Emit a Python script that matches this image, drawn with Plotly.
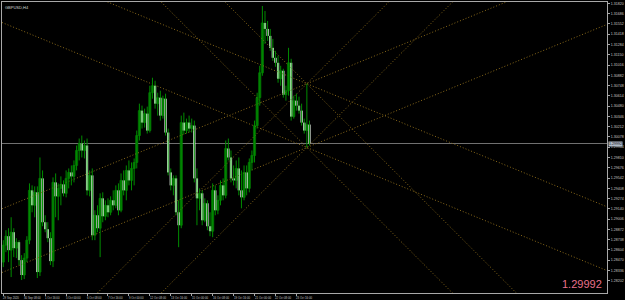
import plotly.graph_objects as go

# ---------------- data ----------------
symbol_label = "GBPUSD,H4"
bid_price = 1.29992

x_label_bars = [0, 8, 16, 24, 32, 40, 48, 56, 64, 72, 80, 88, 96, 104, 112]
x_labels = ["29 Sep 2020", "30 Sep 08:00", "1 Oct 16:00", "5 Oct 00:00", "6 Oct 08:00",
            "7 Oct 16:00", "9 Oct 00:00", "12 Oct 08:00", "13 Oct 16:00", "15 Oct 00:00",
            "16 Oct 08:00", "19 Oct 16:00", "21 Oct 00:00", "22 Oct 08:00", "23 Oct 16:00"]

y_ticks = [1.28202, 1.28336, 1.28470, 1.28604, 1.28738, 1.28872, 1.29006, 1.29140,
           1.29274, 1.29408, 1.29542, 1.29676, 1.29810, 1.29944, 1.30078, 1.30212,
           1.30346, 1.30480, 1.30614, 1.30748, 1.30882, 1.31016, 1.31150, 1.31284,
           1.31418, 1.31552, 1.31686, 1.31820]

opens = [1.28445, 1.28666, 1.28783, 1.28601, 1.28835, 1.28627, 1.28705, 1.28471, 1.28276, 1.28497,
         1.28731, 1.29381, 1.29186, 1.29355, 1.28315, 1.29537, 1.28965, 1.28874, 1.28757, 1.28458,
         1.29485, 1.29303, 1.29407, 1.29459, 1.29342, 1.29537, 1.29615, 1.29563, 1.29706, 1.29901,
         1.29992, 1.29901, 1.29966, 1.29381, 1.29576, 1.28796, 1.29056, 1.28887, 1.29277, 1.29043,
         1.29186, 1.29095, 1.29251, 1.29186, 1.29381, 1.29121, 1.29511, 1.29381, 1.29641, 1.29511,
         1.29667, 1.29745, 1.30096, 1.30421, 1.30265, 1.30382, 1.30161, 1.30655, 1.30746, 1.30512,
         1.30590, 1.30356, 1.30577, 1.30135, 1.29615, 1.29446, 1.29537, 1.29095, 1.28926, 1.30265,
         1.30161, 1.30265, 1.30187, 1.30226, 1.29537, 1.29277, 1.29342, 1.28991, 1.29212, 1.28913,
         1.28848, 1.29381, 1.29121, 1.29251, 1.29446, 1.29316, 1.29927, 1.29810, 1.29537, 1.29511,
         1.29667, 1.29381, 1.29290, 1.29615, 1.29407, 1.29745, 1.29836, 1.30226, 1.30590, 1.30915,
         1.31565, 1.31487, 1.31396, 1.31240, 1.31110, 1.31045, 1.30837, 1.30941, 1.30629, 1.30681,
         1.31045, 1.30343, 1.30551, 1.30486, 1.30421, 1.30265, 1.30161, 1.30239]

highs = [1.28731, 1.28861, 1.28887, 1.29030, 1.28887, 1.28757, 1.28731, 1.28536, 1.28562, 1.28783,
         1.29472, 1.29446, 1.29433, 1.29433, 1.29810, 1.29641, 1.29056, 1.28965, 1.28835, 1.29550,
         1.29602, 1.29472, 1.29563, 1.29511, 1.29641, 1.29667, 1.29706, 1.29771, 1.29966, 1.30057,
         1.30096, 1.30031, 1.30057, 1.29641, 1.29667, 1.29121, 1.29186, 1.29342, 1.29355, 1.29251,
         1.29277, 1.29303, 1.29381, 1.29446, 1.29472, 1.29602, 1.29641, 1.29706, 1.29771, 1.29745,
         1.29797, 1.30161, 1.30512, 1.30486, 1.30447, 1.30473, 1.30746, 1.30850, 1.30811, 1.30655,
         1.30681, 1.30616, 1.30642, 1.30187, 1.29667, 1.29576, 1.29576, 1.29251, 1.30356, 1.30395,
         1.30317, 1.30356, 1.30317, 1.30291, 1.29667, 1.29407, 1.29381, 1.29277, 1.29251, 1.29095,
         1.29472, 1.29446, 1.29316, 1.29511, 1.29537, 1.30031, 1.30057, 1.29901, 1.29706, 1.29771,
         1.29810, 1.29641, 1.29706, 1.29706, 1.29797, 1.29901, 1.30291, 1.30655, 1.31006, 1.31786,
         1.31721, 1.31591, 1.31487, 1.31357, 1.31201, 1.31136, 1.31006, 1.30967, 1.30746, 1.31240,
         1.31097, 1.30616, 1.30642, 1.30603, 1.30512, 1.30317, 1.30772, 1.30291]

lows = [1.28380, 1.28575, 1.28445, 1.28250, 1.28510, 1.28497, 1.28406, 1.28211, 1.28224, 1.28445,
        1.28679, 1.29095, 1.29030, 1.28237, 1.28263, 1.28913, 1.28835, 1.28705, 1.28406, 1.28380,
        1.29030, 1.28991, 1.29186, 1.29303, 1.29290, 1.29407, 1.29446, 1.29485, 1.29641, 1.29771,
        1.29810, 1.29797, 1.29316, 1.29303, 1.28731, 1.28731, 1.28835, 1.28510, 1.28965, 1.28991,
        1.29030, 1.29056, 1.29121, 1.29147, 1.29056, 1.29095, 1.29316, 1.29251, 1.29446, 1.29381,
        1.29446, 1.29667, 1.30031, 1.30187, 1.30200, 1.30122, 1.30135, 1.30577, 1.30447, 1.30356,
        1.30291, 1.30317, 1.30096, 1.29576, 1.29381, 1.29316, 1.29056, 1.28640, 1.28887, 1.30109,
        1.30122, 1.30135, 1.30135, 1.29485, 1.28926, 1.29121, 1.28926, 1.28965, 1.28861, 1.28783,
        1.28770, 1.29056, 1.29069, 1.29186, 1.29251, 1.29277, 1.29771, 1.29485, 1.29446, 1.29407,
        1.29316, 1.29147, 1.29251, 1.29316, 1.29355, 1.29641, 1.29745, 1.30187, 1.30486, 1.30876,
        1.31292, 1.31331, 1.31201, 1.31071, 1.30993, 1.30785, 1.30746, 1.30590, 1.30551, 1.30616,
        1.30291, 1.30317, 1.30421, 1.30382, 1.30226, 1.30122, 1.29940, 1.29966]

closes = [1.28666, 1.28783, 1.28601, 1.28835, 1.28627, 1.28705, 1.28471, 1.28276, 1.28497, 1.28731,
          1.29381, 1.29186, 1.29355, 1.28315, 1.29537, 1.28965, 1.28874, 1.28757, 1.28458, 1.29485,
          1.29303, 1.29407, 1.29459, 1.29342, 1.29537, 1.29615, 1.29563, 1.29706, 1.29901, 1.29992,
          1.29901, 1.29966, 1.29381, 1.29576, 1.28796, 1.29056, 1.28887, 1.29277, 1.29043, 1.29186,
          1.29095, 1.29251, 1.29186, 1.29381, 1.29121, 1.29511, 1.29381, 1.29641, 1.29511, 1.29667,
          1.29745, 1.30096, 1.30421, 1.30265, 1.30382, 1.30161, 1.30655, 1.30746, 1.30512, 1.30590,
          1.30356, 1.30577, 1.30135, 1.29615, 1.29446, 1.29537, 1.29095, 1.28926, 1.30265, 1.30161,
          1.30265, 1.30187, 1.30226, 1.29537, 1.29277, 1.29342, 1.28991, 1.29212, 1.28913, 1.28848,
          1.29381, 1.29121, 1.29251, 1.29446, 1.29316, 1.29927, 1.29810, 1.29537, 1.29511, 1.29667,
          1.29381, 1.29290, 1.29615, 1.29407, 1.29745, 1.29836, 1.30226, 1.30590, 1.30915, 1.31565,
          1.31487, 1.31396, 1.31240, 1.31110, 1.31045, 1.30837, 1.30941, 1.30629, 1.30681, 1.31045,
          1.30343, 1.30551, 1.30486, 1.30421, 1.30265, 1.30161, 1.30239, 1.29992]

bars = list(range(len(closes)))

# trend-line fan: anchored on the high and low of one bar, slopes in price per bar
fan_anchor_bar = 116
fan_anchor_prices = [1.30772, 1.29940]
fan_slopes = [0.00014, -0.00014, 0.000341, -0.000341]

x_range = [-0.5, 230.7]
y_range = [1.28042, 1.31838]

# ---------------- figure ----------------
WICK = "#008c00"
BULL_BODY = "#006a00"
BEAR_BODY = "#f2fff2"
GOLD = "#8a6a1a"
AXIS = "#a8a8a8"
FONT = "Liberation Sans, Arial, sans-serif"

fig = go.Figure()

# fan lines
for p in fan_anchor_prices:
    for s in fan_slopes:
        xs = [x_range[0], x_range[1]]
        ys = [p + s * (xv - fan_anchor_bar) for xv in xs]
        fig.add_trace(go.Scatter(x=xs, y=ys, mode="lines",
                                 line=dict(color=GOLD, width=1, dash="1px,2px"),
                                 hoverinfo="skip", showlegend=False))

# wicks
wx, wy = [], []
for i, h, l in zip(bars, highs, lows):
    wx += [i, i, None]
    wy += [l, h, None]
fig.add_trace(go.Scatter(x=wx, y=wy, mode="lines", line=dict(color=WICK, width=1),
                         hoverinfo="skip", showlegend=False))

# bodies
bull_x, bull_base, bull_h = [], [], []
bear_x, bear_base, bear_h = [], [], []
for i, o, c in zip(bars, opens, closes):
    if c >= o:
        bull_x.append(i); bull_base.append(o); bull_h.append(c - o)
    else:
        bear_x.append(i); bear_base.append(c); bear_h.append(o - c)
fig.add_trace(go.Bar(x=bull_x, y=bull_h, base=bull_base, width=0.85,
                     marker=dict(color=BULL_BODY, line=dict(color=WICK, width=0.6)),
                     hoverinfo="skip", showlegend=False))
fig.add_trace(go.Bar(x=bear_x, y=bear_h, base=bear_base, width=0.85,
                     marker=dict(color=BEAR_BODY, line=dict(width=0)),
                     hoverinfo="skip", showlegend=False))

annotations = []
for b, t in zip(x_label_bars, x_labels):
    annotations.append(dict(x=b, y=0, xref="x", yref="paper", text=t, showarrow=False,
                            xanchor="left", yanchor="top", xshift=-2, yshift=-1,
                            font=dict(size=2.8, color="#c8c8c8", family=FONT)))

annotations.append(dict(x=1, y=bid_price, xref="paper", yref="y", text=f"{bid_price:.5f}",
                        showarrow=False, xanchor="left", yanchor="middle", xshift=1,
                        bgcolor="#aeb9c6", borderpad=0,
                        font=dict(size=3.6, color="#101010", family=FONT)))

annotations.append(dict(x=0.995, y=0.031, xref="paper", yref="paper", text=f"{bid_price:.5f}",
                        showarrow=False, xanchor="right", yanchor="middle",
                        font=dict(size=11, color="#e8708c", family=FONT)))

annotations.append(dict(x=0, y=1, xref="paper", yref="paper", text=symbol_label,
                        showarrow=False, xanchor="left", yanchor="top", xshift=1, yshift=-1,
                        font=dict(size=4, color="#d8d8d8", family=FONT)))

fig.update_layout(
    width=625, height=300,
    margin=dict(l=1, r=17, t=1, b=7),
    paper_bgcolor="#000000", plot_bgcolor="#000000",
    showlegend=False, barmode="overlay",
    xaxis=dict(range=x_range, tickvals=x_label_bars, showticklabels=False,
               ticks="outside", ticklen=2, tickcolor=AXIS, showgrid=False, zeroline=False,
               showline=True, linecolor=AXIS, linewidth=1, mirror=True, fixedrange=True),
    yaxis=dict(range=y_range, side="right", tickvals=y_ticks,
               ticktext=[f"{v:.5f}" for v in y_ticks],
               tickfont=dict(size=3.6, color="#c8c8c8", family=FONT),
               ticks="outside", ticklen=2, tickcolor=AXIS, showgrid=False, zeroline=False,
               showline=True, linecolor=AXIS, linewidth=1, mirror=True, fixedrange=True),
    shapes=[dict(type="line", xref="paper", x0=0, x1=1, yref="y", y0=bid_price, y1=bid_price,
                 line=dict(color="#707070", width=1), layer="below")],
    annotations=annotations,
)

fig.write_html("out.html")
